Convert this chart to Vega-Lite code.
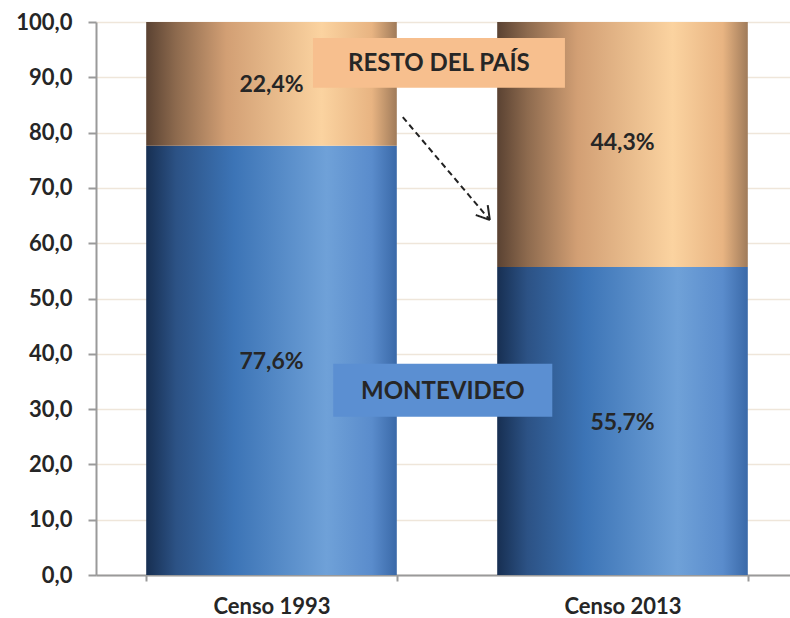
{
  "$schema": "https://vega.github.io/schema/vega-lite/v6.json",
  "autosize": {"type": "none"},
  "padding": {"left": 96, "top": 22, "right": 0, "bottom": 43},
  "width": 702,
  "height": 553,
  "background": "white",
  "config": {
    "view": {"stroke": null},
    "font": "Lato"
  },
  "datasets": {
    "bars": [
      {"censo": "Censo 1993", "region": "MONTEVIDEO", "lo": 0, "hi": 77.6, "mid": 38.6, "label": "77,6%"},
      {"censo": "Censo 1993", "region": "RESTO DEL PAÍS", "lo": 77.6, "hi": 100, "mid": 88.6, "label": "22,4%"},
      {"censo": "Censo 2013", "region": "MONTEVIDEO", "lo": 0, "hi": 55.7, "mid": 27.4, "label": "55,7%"},
      {"censo": "Censo 2013", "region": "RESTO DEL PAÍS", "lo": 55.7, "hi": 100, "mid": 78.1, "label": "44,3%"}
    ],
    "boxes": [
      {"name": "RESTO DEL PAÍS", "x1": 0.309, "x2": 0.668, "y1": 88.1, "y2": 97.1, "xm": 0.4885, "ym": 92.4},
      {"name": "MONTEVIDEO", "x1": 0.338, "x2": 0.65, "y1": 28.6, "y2": 38.2, "xm": 0.494, "ym": 33.1}
    ],
    "arrow": [
      {"part": "shaft", "x1": 0.437, "y1": 82.8, "x2": 0.561, "y2": 64.2},
      {"part": "head", "x1": 0.558, "y1": 66.9, "x2": 0.561, "y2": 64.2},
      {"part": "head", "x1": 0.541, "y1": 65.1, "x2": 0.561, "y2": 64.2}
    ]
  },
  "layer": [
    {
      "data": {"name": "bars"},
      "layer": [
        {
          "transform": [{"filter": "datum.region === 'MONTEVIDEO'"}],
          "mark": {
            "type": "bar",
            "color": {
              "gradient": "linear", "x1": 0, "x2": 1, "y1": 0, "y2": 0,
              "stops": [
                {"offset": 0, "color": "#172f52"},
                {"offset": 0.12, "color": "#2c5285"},
                {"offset": 0.35, "color": "#3c74b6"},
                {"offset": 0.72, "color": "#6fa1d8"},
                {"offset": 0.9, "color": "#5a8ccc"},
                {"offset": 1, "color": "#3a69a8"}
              ]
            }
          },
          "encoding": {
            "x": {
              "field": "censo", "type": "nominal",
              "scale": {"paddingInner": 0.286, "paddingOuter": 0.143},
              "axis": {
                "title": null, "labelAngle": 0, "labelFontSize": 22, "labelFontWeight": "bold",
                "labelColor": "#262626", "labelPadding": 15, "domainColor": "#9a9a9a",
                "domainWidth": 2, "tickColor": "#9a9a9a", "tickWidth": 2, "tickSize": 6,
                "tickBand": "extent", "grid": false
              }
            },
            "y": {
              "field": "lo", "type": "quantitative",
              "scale": {"domain": [0, 100], "nice": false},
              "axis": {
                "title": null, "values": [0,10,20,30,40,50,60,70,80,90,100],
                "labelOverlap": false, "labelBound": false,
                "labelExpr": "replace(format(datum.value, '.1f'), '.', ',')",
                "labelFontSize": 22, "labelFontWeight": "bold", "labelColor": "#262626",
                "labelPadding": 16, "domainColor": "#9a9a9a", "domainWidth": 2,
                "tickColor": "#9a9a9a", "tickWidth": 2, "tickSize": 8,
                "grid": true, "gridColor": "#efe6da", "gridWidth": 1.5
              }
            },
            "y2": {"field": "hi"}
          }
        },
        {
          "transform": [{"filter": "datum.region !== 'MONTEVIDEO'"}],
          "mark": {
            "type": "bar",
            "color": {
              "gradient": "linear", "x1": 0, "x2": 1, "y1": 0, "y2": 0,
              "stops": [
                {"offset": 0, "color": "#5a4232"},
                {"offset": 0.12, "color": "#8d6a4e"},
                {"offset": 0.32, "color": "#d29f74"},
                {"offset": 0.7, "color": "#fbd3a0"},
                {"offset": 0.9, "color": "#e8b482"},
                {"offset": 1, "color": "#a07b5a"}
              ]
            }
          },
          "encoding": {
            "x": {"field": "censo", "type": "nominal"},
            "y": {"field": "lo", "type": "quantitative"},
            "y2": {"field": "hi"}
          }
        },
        {
          "mark": {"type": "text", "fontSize": 23, "fontWeight": "bold", "color": "#262626"},
          "encoding": {
            "x": {"field": "censo", "type": "nominal"},
            "y": {"field": "mid", "type": "quantitative"},
            "text": {"field": "label"}
          }
        }
      ]
    },
    {
      "layer": [
        {
          "data": {"name": "boxes"},
          "layer": [
            {
              "mark": {"type": "rect"},
              "encoding": {
                "x": {"field": "x1", "type": "quantitative", "scale": {"domain": [0, 1], "nice": false}, "axis": null},
                "x2": {"field": "x2"},
                "y": {"field": "y1", "type": "quantitative"},
                "y2": {"field": "y2"},
                "color": {
                  "field": "name", "type": "nominal",
                  "scale": {"domain": ["RESTO DEL PAÍS", "MONTEVIDEO"], "range": ["#f7bf8e", "#5b8fd2"]},
                  "legend": null
                }
              }
            },
            {
              "mark": {"type": "text", "fontSize": 24, "fontWeight": "bold", "color": "#262626"},
              "encoding": {
                "x": {"field": "xm", "type": "quantitative"},
                "y": {"field": "ym", "type": "quantitative"},
                "text": {"field": "name"}
              }
            }
          ]
        },
        {
          "data": {"name": "arrow"},
          "mark": {"type": "rule", "color": "#222222", "strokeWidth": 2},
          "encoding": {
            "x": {"field": "x1", "type": "quantitative"},
            "x2": {"field": "x2"},
            "y": {"field": "y1", "type": "quantitative"},
            "y2": {"field": "y2"},
            "strokeDash": {
              "field": "part", "type": "nominal",
              "scale": {"domain": ["shaft", "head"], "range": [[6, 4], [1, 0]]},
              "legend": null
            }
          }
        }
      ]
    }
  ],
  "resolve": {"scale": {"x": "independent"}, "axis": {"x": "independent"}}
}
